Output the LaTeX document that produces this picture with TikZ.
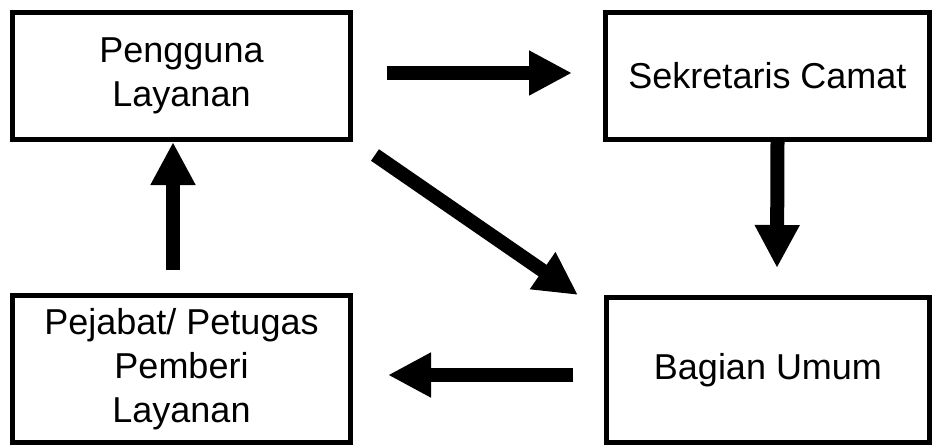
\documentclass[tikz,border=0pt]{standalone}
\usepackage{fontspec}
\setmainfont{Liberation Sans}
\usepackage{tikz}
\usetikzlibrary{arrows.meta}

\begin{document}
\begin{tikzpicture}[x=1pt,y=-1pt,outer sep = 2.5pt]

	\tikzstyle{every node}=[font=\fontsize{36}{44}\selectfont]

	\tikzset{unitbox/.style={align=center,shape=rectangle,draw=black,
		line width=5pt,inner sep=0pt}}

	\tikzset{flow/.style={line width=14pt,
		-{Triangle[length=43pt,width=42pt]}}}

	\useasboundingbox (0,0) rectangle (937,445);

	% Units of the service flow.
	\node (pengguna) at (181.5,76) [unitbox,minimum width=338pt,minimum height=127pt] {Pengguna\\Layanan};
	\node (sekretaris) at (767.5,76) [unitbox,minimum width=324pt,minimum height=127pt] {Sekretaris Camat};
	\node (pejabat) at (181.5,369) [unitbox,minimum width=338pt,minimum height=147pt] {Pejabat/ Petugas\\Pemberi\\Layanan};
	\node (bagian) at (768,370) [unitbox,minimum width=323pt,minimum height=145pt] {Bagian Umum};

	% Arrows between the units.
	\draw [flow] ([xshift=34pt,yshift=3pt]pengguna.east) -- ([xshift=-31pt,yshift=3pt]sekretaris.west);
	\draw [flow] ([xshift=10pt]sekretaris.south) -- ([xshift=9pt,yshift=27pt]bagian.north);
	\draw [flow] ([xshift=22pt,yshift=-13pt]pengguna.south east) -- ([xshift=-26pt]bagian.north west);
	\draw [flow] ([xshift=-31pt,yshift=-5pt]bagian.west) -- ([xshift=35pt,yshift=-6pt]pejabat.east);
	\draw [flow] ([xshift=-8.5pt,yshift=23pt]pejabat.north) -- ([xshift=-8.5pt]pengguna.south);
\end{tikzpicture}
\end{document}
